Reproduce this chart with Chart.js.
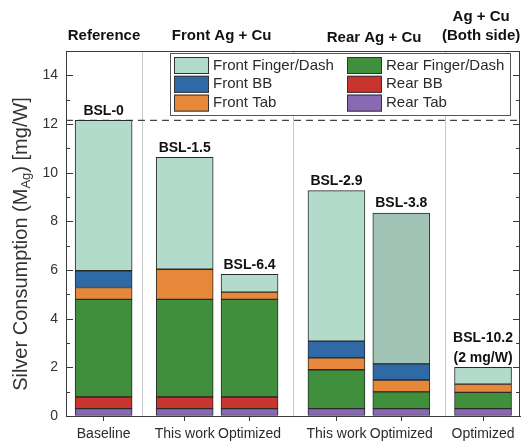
<!DOCTYPE html>
<html>
<head>
<meta charset="utf-8">
<script src="https://cdn.jsdelivr.net/npm/chart.js@4/dist/chart.umd.min.js"></script>
<style>
  html, body { margin: 0; padding: 0; background: #fff; }
  #wrap { width: 522px; height: 441px; position: relative; }
</style>
</head>
<body>
<div id="wrap"><canvas id="chart" width="522" height="441"></canvas></div>
<script>
// Bar categories and where they sit on the x axis
const categories = ['Baseline', 'This work', 'Optimized', 'This work', 'Optimized', 'Optimized'];
const barPositions = [0.58, 1.83, 2.83, 4.17, 5.17, 6.43];
const groupDividers = [1.17, 3.5, 5.84];
const groupHeaders = [
  { lines: ['Reference'], x: 0.586 },
  { lines: ['Front Ag + Cu'], x: 2.40 },
  { lines: ['Rear Ag + Cu'], x: 4.75 },
  { lines: ['Ag + Cu', '(Both side)'], x: 6.40 }
];
const barLabels = [['BSL-0'], ['BSL-1.5'], ['BSL-6.4'], ['BSL-2.9'], ['BSL-3.8'], ['BSL-10.2', '(2 mg/W)']];

// Silver consumption per component [mg/W]
const rearTab     = [0.30, 0.30, 0.30, 0.30, 0.30, 0.30];
const rearBB      = [0.48, 0.48, 0.48, null, null, null];
const rearFinger  = [4.01, 4.01, 4.01, 1.60, 0.69, 0.67];
const frontTab    = [0.49, 1.24, 0.30, 0.49, 0.49, 0.34];
const frontBB     = [0.69, null, null, 0.69, 0.66, null];
const frontFinger = [6.18, 4.60, 0.73, 6.18, 6.20, 0.69];

const yTicks = [0, 2, 4, 6, 8, 10, 12, 14];

const FONT = "'Liberation Sans', Arial, Helvetica, sans-serif";
const INK = '#2b2b2b';

const toPoints = arr => arr.map((v, i) => ({ x: barPositions[i], y: v }));

const seriesDefs = [
  { label: 'Rear Tab', data: rearTab, color: '#8a69b4' },
  { label: 'Rear BB', data: rearBB, color: '#c9342e' },
  { label: 'Rear Finger/Dash', data: rearFinger, color: '#3f8f3c' },
  { label: 'Front Tab', data: frontTab, color: '#e6873a' },
  { label: 'Front BB', data: frontBB, color: '#2f69a6' },
  { label: 'Front Finger/Dash', data: frontFinger, color: ['#b3dbcb', '#b3dbcb', '#b3dbcb', '#b3dbcb', '#a2c4b7', '#b3dbcb'], legendColor: '#b3dbcb' }
];

const totals = categories.map((_, i) =>
  seriesDefs.reduce((s, d) => s + (d.data[i] || 0), 0));

// Draws the framed box, dividers, reference line, in-facing ticks, labels and legend
const decorations = {
  id: 'decorations',
  beforeDatasetsDraw(chart) {
    const { ctx, chartArea: a, scales: { x, y } } = chart;
    ctx.save();
    // group dividers
    ctx.strokeStyle = '#c9c9c9';
    ctx.lineWidth = 1;
    groupDividers.forEach(v => {
      const px = Math.round(x.getPixelForValue(v)) + 0.5;
      ctx.beginPath(); ctx.moveTo(px, a.top); ctx.lineTo(px, a.bottom); ctx.stroke();
    });
    // dashed reference level (baseline total)
    const ry = y.getPixelForValue(totals[0]);
    ctx.strokeStyle = '#444';
    ctx.lineWidth = 1.4;
    ctx.setLineDash([7, 5]);
    ctx.beginPath(); ctx.moveTo(a.left, ry); ctx.lineTo(a.right, ry); ctx.stroke();
    ctx.restore();
  },
  afterDraw(chart) {
    const { ctx, chartArea: a, scales: { x, y } } = chart;
    ctx.save();
    // frame top and right
    ctx.strokeStyle = '#3a3a3a';
    ctx.lineWidth = 1;
    ctx.beginPath();
    ctx.moveTo(a.left, a.top + 0.5); ctx.lineTo(a.right - 0.5, a.top + 0.5); ctx.lineTo(a.right - 0.5, a.bottom);
    ctx.stroke();
    // in-facing ticks on left and right
    for (let v = 0; v <= 15; v++) {
      const py = Math.round(y.getPixelForValue(v)) + 0.5;
      const len = v % 2 === 0 ? 7 : 4;
      ctx.beginPath();
      ctx.moveTo(a.left, py); ctx.lineTo(a.left + len, py);
      ctx.moveTo(a.right, py); ctx.lineTo(a.right - len, py);
      ctx.stroke();
    }
    // bar value labels
    ctx.fillStyle = '#111';
    ctx.font = 'bold 14px ' + FONT;
    ctx.textAlign = 'center';
    ctx.textBaseline = 'middle';
    barLabels.forEach((lines, i) => {
      const px = x.getPixelForValue(barPositions[i]);
      const top = y.getPixelForValue(totals[i]);
      lines.forEach((t, j) => {
        const off = 9.5 + (lines.length - 1 - j) * 20;
        ctx.fillText(t, px, top - off);
      });
    });
    // group headers
    ctx.font = 'bold 15px ' + FONT;
    ctx.textBaseline = 'alphabetic';
    const headerBase = [39.5, 39.5, 41.5, 40];
    groupHeaders.forEach((h, i) => {
      const px = x.getPixelForValue(h.x);
      h.lines.forEach((t, j) => {
        const by = headerBase[i] - (h.lines.length - 1 - j) * 19.5;
        ctx.fillText(t, px, by);
      });
    });
    // legend
    const box = { x: 170.5, y: 53.5, w: 340, h: 62 };
    ctx.fillStyle = '#fff';
    ctx.fillRect(box.x, box.y, box.w, box.h);
    ctx.strokeStyle = '#555';
    ctx.strokeRect(box.x, box.y, box.w, box.h);
    const ds = chart.data.datasets;
    const columns = [[5, 4, 3], [2, 1, 0]];
    const colX = [174, 347];
    ctx.font = '15px ' + FONT;
    ctx.textAlign = 'left';
    ctx.textBaseline = 'middle';
    columns.forEach((col, c) => {
      col.forEach((di, r) => {
        const d = ds[di];
        const sy = 57 + r * 18.8;
        ctx.fillStyle = d.legendColor || d.backgroundColor;
        ctx.fillRect(colX[c], sy, 35, 17);
        ctx.strokeStyle = '#333';
        ctx.strokeRect(colX[c] + 0.5, sy + 0.5, 34, 16);
        ctx.fillStyle = INK;
        ctx.fillText(d.label, colX[c] + 39, sy + 8.5);
      });
    });
    // y axis title with subscript
    ctx.translate(21, 244);
    ctx.rotate(-Math.PI / 2);
    ctx.fillStyle = '#333';
    ctx.textBaseline = 'middle';
    const main = '20px ' + FONT, sub = '13px ' + FONT;
    const p1 = 'Silver Consumption (M', p2 = 'Ag', p3 = ') [mg/W]';
    ctx.font = main; const w1 = ctx.measureText(p1).width, w3 = ctx.measureText(p3).width;
    ctx.font = sub; const w2 = ctx.measureText(p2).width;
    let sx = -(w1 + w2 + w3) / 2;
    ctx.font = main; ctx.fillText(p1, sx, 0); sx += w1;
    ctx.font = sub; ctx.fillText(p2, sx, 5); sx += w2;
    ctx.font = main; ctx.fillText(p3, sx, 0);
    ctx.restore();
  }
};

new Chart(document.getElementById('chart'), {
  type: 'bar',
  data: {
    datasets: seriesDefs.map(d => ({
      label: d.label,
      data: toPoints(d.data),
      backgroundColor: d.color,
      legendColor: d.legendColor,
      borderColor: '#2a2a2a',
      borderWidth: 1,
      borderSkipped: false,
      barThickness: 57
    }))
  },
  options: {
    responsive: false,
    animation: false,
    layout: { padding: { top: 51, right: 2, left: 0, bottom: 0 } },
    plugins: { legend: { display: false }, tooltip: { enabled: false } },
    scales: {
      x: {
        type: 'linear',
        stacked: true,
        min: 0,
        max: 7,
        offset: false,
        afterFit(scale) { scale.height = 25; },
        afterBuildTicks(scale) { scale.ticks = barPositions.map(v => ({ value: v })); },
        ticks: {
          autoSkip: false,
          maxRotation: 0,
          padding: 5,
          color: INK,
          font: { family: FONT, size: 14 },
          callback: v => categories[barPositions.indexOf(v)]
        },
        grid: { offset: false, drawOnChartArea: false, drawTicks: true, tickLength: 5, color: '#3a3a3a' },
        border: { display: true, color: '#3a3a3a', width: 1 }
      },
      y: {
        stacked: true,
        min: 0,
        max: 15,
        afterFit(scale) { scale.width = 66; },
        afterBuildTicks(scale) { scale.ticks = yTicks.map(v => ({ value: v })); },
        ticks: { padding: 8, color: '#333', font: { family: FONT, size: 14 } },
        grid: { drawOnChartArea: false, drawTicks: false },
        border: { display: true, color: '#3a3a3a', width: 1 }
      }
    }
  },
  plugins: [decorations]
});
</script>
</body>
</html>
